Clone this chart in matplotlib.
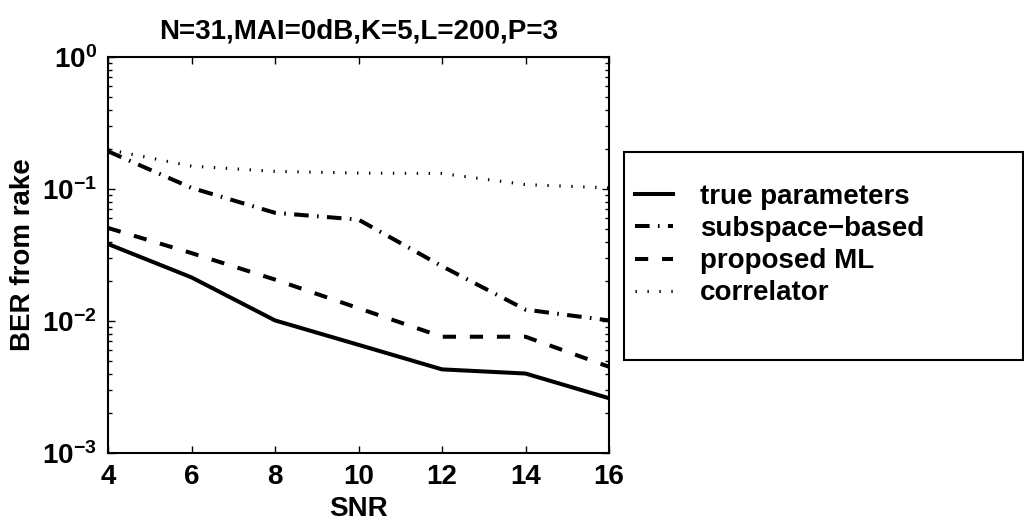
import numpy as np
import matplotlib
matplotlib.use("Agg")
import matplotlib.pyplot as plt
import matplotlib.patches as patches

plt.rcParams['font.family'] = ['Liberation Sans', 'DejaVu Sans']
plt.rcParams['font.weight'] = 'bold'
plt.rcParams['mathtext.fontset'] = 'custom'
plt.rcParams['mathtext.rm'] = 'Liberation Sans:bold'
plt.rcParams['mathtext.bf'] = 'Liberation Sans:bold'
plt.rcParams['mathtext.it'] = 'Liberation Sans:bold'
plt.rcParams['lines.scale_dashes'] = False

# Donnees
snr = [4, 6, 8, 10, 12, 14, 16]
ber_true = [0.0383, 0.0214, 0.0101, 0.0066, 0.0043, 0.0040, 0.0026]
ber_subspace = [0.193, 0.102, 0.066, 0.0586, 0.026, 0.0122, 0.0101]
ber_ml = [0.0507, 0.0327, 0.0206, 0.0125, 0.0076, 0.0076, 0.0045]
ber_corr = [0.199, 0.149, 0.136, 0.132, 0.131, 0.108, 0.102]
labels = ['true parameters', 'subspace\u2212based', 'proposed ML', 'correlator']
titre = 'N=31,MAI=0dB,K=5,L=200,P=3'

fig = plt.figure(figsize=(10.24, 5.27), dpi=100)
ax = fig.add_axes([108 / 1024, 1 - 453 / 527, 501 / 1024, 396 / 527])

l1, = ax.plot(snr, ber_true, color='black', lw=2.9, linestyle='-')
l2, = ax.plot(snr, ber_subspace, color='black', lw=2.9, solid_capstyle='butt',
              dash_capstyle='butt')
l2.set_dashes((10.5, 6, 1.2, 6))
l3, = ax.plot(snr, ber_ml, color='black', lw=2.9, dash_capstyle='butt')
l3.set_dashes((9.5, 10))
l4, = ax.plot(snr, ber_corr, color='black', lw=2.2, dash_capstyle='butt')
l4.set_dashes((1.0, 7.6))

ax.set_yscale('log')
ax.set_xlim(4, 16)
ax.set_ylim(1e-3, 1e0)
ax.set_xticks([4, 6, 8, 10, 12, 14, 16])
ax.set_yticks([1e-3, 1e-2, 1e-1, 1e0])
ax.tick_params(which='both', direction='in', top=True, right=True,
               labelsize=20, pad=8)
ax.tick_params(which='major', length=5, width=1)
ax.tick_params(which='minor', length=3, width=1)
ax.tick_params(axis='x', which='minor', bottom=False, top=False)
for s in ax.spines.values():
    s.set_linewidth(1.5)

ax.set_xlabel('SNR', fontsize=20, fontweight='bold', labelpad=4)
ax.set_ylabel('BER from rake', fontsize=20, fontweight='bold', labelpad=4)
ax.set_title(titre, fontsize=20, fontweight='bold', pad=13)

# Legende hors des axes
cadre = patches.Rectangle((624 / 1024, 1 - 360 / 527), 399 / 1024, 208 / 527,
                          transform=fig.transFigure, facecolor='white',
                          edgecolor='black', linewidth=1.5)
fig.patches.append(cadre)
leg = fig.legend([l1, l2, l3, l4], labels, loc='upper left',
                 bbox_to_anchor=(635 / 1024, 1 - 184 / 527),
                 frameon=False, fontsize=20, handlelength=1.35,
                 handletextpad=1.0, labelspacing=0.22, borderpad=0,
                 borderaxespad=0)

fig.savefig('out.png', dpi=100)
